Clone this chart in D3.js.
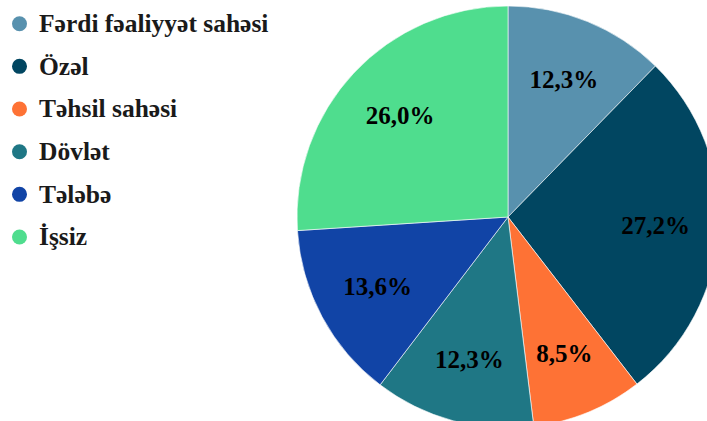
<!DOCTYPE html>
<html>
<head>
<meta charset="utf-8">
<script src="https://cdn.jsdelivr.net/npm/d3@7"></script>
<style>
  html, body { margin: 0; padding: 0; background: #ffffff; }
  svg { display: block; }
  text { font-family: "Liberation Serif", "Times New Roman", Tinos, "DejaVu Serif", serif; font-weight: bold; }
</style>
</head>
<body>
<svg id="chart" width="707" height="421"></svg>
<script>
const categories = ["Fərdi fəaliyyət sahəsi", "Özəl", "Təhsil sahəsi", "Dövlət", "Tələbə", "İşsiz"];
const values = [12.3, 27.2, 8.5, 12.3, 13.6, 26.0];
const labels = ["12,3%", "27,2%", "8,5%", "12,3%", "13,6%", "26,0%"];
const colors = ["#5891AE", "#014661", "#FE7235", "#1F7785", "#1144A6", "#4FDD8E"];

const svg = d3.select("#chart");
const cx = 508, cy = 217, R = 211, labelR = 148;

const pie = d3.pie().sort(null).value(d => d.v);
const data = categories.map((c, i) => ({ c, v: values[i], label: labels[i], color: colors[i] }));
const arcs = pie(data);
const arc = d3.arc().innerRadius(0).outerRadius(R);
const labelArc = d3.arc().innerRadius(labelR).outerRadius(labelR);

const g = svg.append("g").attr("transform", `translate(${cx},${cy})`);
g.selectAll("path.slice").data(arcs).join("path")
  .attr("class", "slice")
  .attr("d", arc)
  .attr("fill", d => d.data.color)
  .attr("stroke", "#ffffff")
  .attr("stroke-width", 0.6);

g.selectAll("text.lbl").data(arcs).join("text")
  .attr("class", "lbl")
  .attr("transform", d => `translate(${labelArc.centroid(d)})`)
  .attr("text-anchor", "middle")
  .attr("dy", "0.33em")
  .attr("font-size", 25)
  .attr("fill", "#000000")
  .text(d => d.data.label);

const legendY = d3.scalePoint().domain(categories).range([23.7, 237]);
const leg = svg.append("g");
const items = leg.selectAll("g.item").data(data).join("g")
  .attr("class", "item")
  .attr("transform", d => `translate(0,${legendY(d.c)})`);
items.append("circle")
  .attr("cx", 19.5).attr("cy", 0).attr("r", 7.5)
  .attr("fill", d => d.color);
items.append("text")
  .attr("x", 39).attr("y", 8.3)
  .attr("font-size", 25.5)
  .attr("fill", "#1a1a1a")
  .text(d => d.c);
</script>
</body>
</html>
